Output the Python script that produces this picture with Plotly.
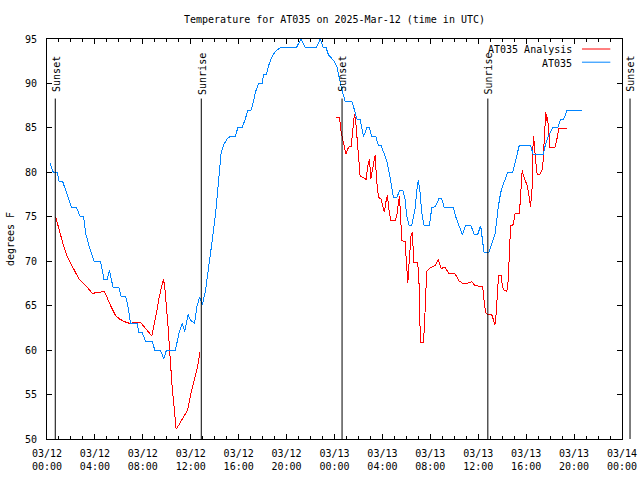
import pandas as pd
import plotly.graph_objects as go

BASE = pd.Timestamp("2025-03-12 00:00")
X_END = pd.Timestamp("2025-03-14 00:00")

# Observed AT035 temperature (hours since 03/12 00:00 UTC, degrees F)
obs_hours = [0.25, 0.53, 0.86, 1.0, 1.3, 1.56, 1.89, 2.06, 2.47, 2.78, 3.06, 3.23, 3.58, 3.92,
             4.47, 4.75, 5.03, 5.22, 5.36, 5.53, 6.0, 6.2, 6.56, 6.75, 6.97, 7.53, 7.67, 7.94,
             8.22, 8.78, 9.0, 9.47, 9.75, 9.97, 10.72, 11.0, 11.28, 11.5, 11.78, 11.97, 12.31,
             12.53, 12.75, 12.97, 13.22, 13.5, 13.78, 14.06, 14.25, 14.39, 14.53, 14.75, 15.03,
             15.25, 15.72, 15.92, 16.28, 16.56, 16.75, 17.03, 17.25, 17.39, 17.67, 17.95, 18.08,
             18.31, 18.5, 18.78, 19.06, 19.47, 20.81, 21.2, 21.56, 22.47, 22.81, 23.08, 23.3,
             23.5, 23.92, 24.2, 24.42, 24.61, 24.89, 25.45, 25.67, 25.87, 26.14, 26.28, 26.42,
             26.7, 26.92, 27.1, 27.45, 27.67, 27.9, 28.17, 28.36, 28.56, 28.73, 28.92, 29.2,
             29.47, 29.7, 29.89, 30.03, 30.23, 30.45, 30.73, 30.92, 31.0, 31.14, 31.28, 31.48,
             31.92, 32.12, 32.45, 32.73, 32.95, 33.17, 33.92, 34.12, 34.39, 34.67, 34.95, 35.39,
             35.67, 35.95, 36.2, 36.37, 36.48, 36.9, 37.12, 37.4, 37.53, 37.67, 37.87, 38.09,
             38.31, 38.45, 38.87, 39.06, 39.2, 39.42, 40.37, 40.59, 41.42, 41.59, 41.84, 42.2,
             42.67, 42.87, 43.14, 43.42, 44.7]
obs_temp = [81, 80, 80, 79, 79, 78, 76.6, 76, 76, 75, 75, 73.1, 71.4, 70,
            70, 68, 68, 69, 68, 67, 67, 66, 66, 65, 63, 63, 62, 62,
            61, 61, 60, 60, 59, 60, 60, 61.8, 63, 62.1, 64, 63.4, 63,
            65, 66, 65.1, 66.6, 69.2, 72.2, 75.2, 78.2, 79.7, 82.1, 83.1, 83.75,
            84, 84, 85, 85, 86, 87, 87, 88, 89, 90, 90, 91,
            91, 92, 93, 93.6, 94, 94, 95, 94, 94, 95, 94, 94,
            93.2, 92.6, 91.9, 90.4, 89.3, 88, 88, 87, 86, 86, 85, 84,
            85, 85, 84, 84, 83, 83, 82, 81.3, 80, 78.5, 77.2, 77.2,
            78, 78, 77, 75.1, 74, 74, 75.9, 78.6, 79.1, 77.75, 75.5, 74,
            74, 76, 76.2, 77.1, 77, 76, 76, 75, 74, 73, 74, 74,
            73, 73, 74, 72, 71, 71, 72, 73.1, 74.4, 76.1, 77.7, 78.7,
            79.4, 80, 80, 81.1, 82, 83, 83, 82, 82, 83, 84, 85,
            85.1, 86, 86, 87, 87]

# AT035 Analysis temperature (None = gap)
ana_hours = [0.72, 1.06, 1.39, 1.73, 2.17, 2.67, 3.14, 3.56, 3.84, 4.03, 4.39, 4.75, 4.86,
             5.31, 5.72, 6.06, 6.48, 6.9, 7.31, 7.81, 8.14, 8.47, 8.75, 9.11, 9.39, 9.72, 9.83,
             10.08, 10.28, 10.44, 10.64, 10.78, 11.06, 11.47, 11.75, 12.03, 12.31, 12.58, 12.78,
             None,
             24.14, 24.42, 24.53, 24.67, 24.81, 24.95, 25.09, 25.23, 25.39, 25.53, 25.67, 25.78,
             25.89, 26.0, 26.14, 26.42, 26.64, 26.78, 26.92, 27.03, 27.2, 27.39, 27.53, 27.67,
             27.89, 28.09, 28.17, 28.28, 28.42, 28.56, 28.7, 29.06, 29.2, 29.34, 29.42, 29.53,
             29.62, 29.89, 30.03, 30.12, 30.23, 30.39, 30.5, 30.62, 30.95, 31.06, 31.17, 31.42,
             31.5, 31.62, 31.7, 32.03, 32.39, 32.67, 32.89, 33.23, 33.56, 34.06, 34.39, 34.67,
             35.17, 35.45, 35.73, 36.06, 36.37, 36.48, 36.62, 36.78, 37.12, 37.25, 37.39, 37.48,
             37.59, 37.7, 37.9, 38.03, 38.17, 38.39, 38.5, 38.56, 38.64, 38.7, 38.92, 39.06,
             39.2, 39.42, 39.48, 39.56, 39.67, 39.75, 39.89, 40.09, 40.25, 40.37, 40.42, 40.5,
             40.59, 40.67, 40.78, 40.92, 41.14, 41.37, 41.42, 41.48, 41.64, 41.7, 41.78, 41.87,
             41.98, 42.4, 42.48, 42.59, 42.73, 43.0, 43.42]
ana_temp = [75.0, 73.2, 71.7, 70.4, 69.3, 68.0, 67.4, 66.8, 66.3, 66.5, 66.5, 66.6, 66.4,
            65.0, 63.9, 63.5, 63.2, 63.0, 63.1, 63.1, 62.6, 62.0, 61.6, 64.0, 66.1, 68.0, 67.1,
            63.1, 58.8, 56.0, 53.2, 51.1, 51.7, 52.6, 53.3, 55.2, 56.7, 58.2, 59.8,
            None,
            86.2, 86.2, 84.7, 83.75, 83.0, 82.06, 82.6, 82.9, 82.9, 85.25, 86.6, 85.6,
            83.75, 81.5, 79.55, 79.4, 79.2, 80.75, 81.5, 79.25, 80.4, 81.9, 78.9, 77.2,
            77.0, 75.9, 75.5, 76.6, 77.4, 75.7, 74.6, 74.6, 75.1, 76.6, 77.3, 74.75,
            72.3, 72.2, 69.9, 67.55, 69.9, 72.9, 73.3, 69.9, 69.8, 67.4, 60.9, 60.9,
            62.4, 66.1, 68.9, 69.3, 69.5, 70.2, 69.2, 69.3, 68.6, 68.6, 67.8, 67.55,
            67.55, 67.7, 67.25, 67.2, 67.1, 65.6, 64.2, 64.0, 64.0, 63.5, 62.8, 63.9,
            65.75, 68.4, 68.4, 67.1, 66.7, 66.6, 67.8, 70.25, 72.9, 74.0, 74.1, 75.3,
            75.4, 75.4, 76.25, 78.3, 80.2, 79.7, 79.25, 78.5, 77.2, 76.1, 77.0, 78.3,
            84.1, 83.4, 81.5, 79.8, 79.8, 80.4, 81.5, 83.4, 86.8, 85.8, 86.2, 84.9,
            82.8, 82.8, 83.2, 83.9, 84.9, 84.95, 84.95]

# Sun events (hours since 03/12 00:00 UTC)
sun_hours = [0.69, 12.88, 24.63, 36.8, 48.67]
sun_labels = ["Sunset", "Sunrise", "Sunset", "Sunrise", "Sunset"]

series_names = ["AT035 Analysis", "AT035"]
series_colors = ["#ff0000", "#0084ff"]

Y_MIN, Y_MAX = 50, 95
SUN_LINE_TOP = 88.3
SUN_LABEL_Y = 91.1

FONT = "DejaVu Sans Mono"


def to_time(hours):
    return [None if h is None else BASE + pd.Timedelta(hours=h) for h in hours]


fig = go.Figure()
fig.add_trace(go.Scatter(x=to_time(ana_hours), y=ana_temp, mode="lines", name=series_names[0],
                         line=dict(color=series_colors[0], width=1), connectgaps=False))
fig.add_trace(go.Scatter(x=to_time(obs_hours), y=obs_temp, mode="lines", name=series_names[1],
                         line=dict(color=series_colors[1], width=1)))

span_h = (X_END - BASE) / pd.Timedelta(hours=1)
for h, lab in zip(sun_hours, sun_labels):
    t = BASE + pd.Timedelta(hours=h)
    if t <= X_END:
        xr, xv = "x", t
    else:
        xr, xv = "paper", h / span_h
    fig.add_shape(type="line", xref=xr, yref="y", x0=xv, x1=xv, y0=Y_MIN, y1=SUN_LINE_TOP,
                  line=dict(color="black", width=1))
    fig.add_annotation(xref=xr, yref="y", x=xv, y=SUN_LABEL_Y, text=lab, textangle=-90,
                       showarrow=False, xanchor="center", yanchor="middle", xshift=1,
                       font=dict(family=FONT, size=10, color="black"))

# Manual legend (key sample on the right of the text)
leg_rows = [0.973, 0.94]
for name, col, yy in zip(series_names, series_colors, leg_rows):
    fig.add_annotation(xref="paper", yref="paper", x=0.917, y=yy, text=name, showarrow=False,
                       xanchor="right", yanchor="middle",
                       font=dict(family=FONT, size=10, color="black"))
    fig.add_shape(type="line", xref="paper", yref="paper", x0=0.9304, x1=0.9797,
                  y0=yy + 0.002, y1=yy + 0.002, line=dict(color=col, width=1))

fig.update_layout(
    width=640, height=480,
    margin=dict(l=47, r=18, t=39, b=41, autoexpand=False),
    paper_bgcolor="white", plot_bgcolor="white",
    showlegend=False,
    font=dict(family=FONT, size=10, color="black"),
    title=dict(text="Temperature for AT035 on 2025-Mar-12 (time in UTC)",
               x=0.5, xref="paper", xanchor="center",
               y=1 - 19.5 / 480, yref="container", yanchor="middle", automargin=False,
               font=dict(family=FONT, size=10, color="black")),
)
fig.update_xaxes(
    type="date", range=[BASE, X_END], automargin=False,
    tick0=BASE, dtick=4 * 3600 * 1000, tickformat="%m/%d<br>%H:%M",
    ticks="inside", ticklen=5, tickcolor="black", tickwidth=1,
    minor=dict(dtick=3600 * 1000, ticks="inside", ticklen=3, tickcolor="black", showgrid=False),
    showline=True, linecolor="black", linewidth=1, mirror="allticks",
    showgrid=False, zeroline=False, ticklabelstandoff=5,
    tickfont=dict(family=FONT, size=10, color="black"),
)
fig.update_yaxes(
    range=[Y_MIN, Y_MAX], dtick=5, tick0=50, automargin=False,
    ticks="inside", ticklen=5, tickcolor="black", tickwidth=1,
    showline=True, linecolor="black", linewidth=1, mirror="allticks",
    showgrid=False, zeroline=False, ticklabelstandoff=7,
    tickfont=dict(family=FONT, size=10, color="black"),
    title=dict(text="degrees F", standoff=8, font=dict(family=FONT, size=10, color="black")),
)

fig.write_html(
    "out.html",
    config={"displayModeBar": False, "staticPlot": True},
    post_script=(
        "document.body.style.margin='0';document.body.style.padding='0';"
        "document.querySelectorAll('.scatterlayer path.js-line').forEach(function(p){"
        "p.style.shapeRendering='crispEdges';});"
    ),
)
